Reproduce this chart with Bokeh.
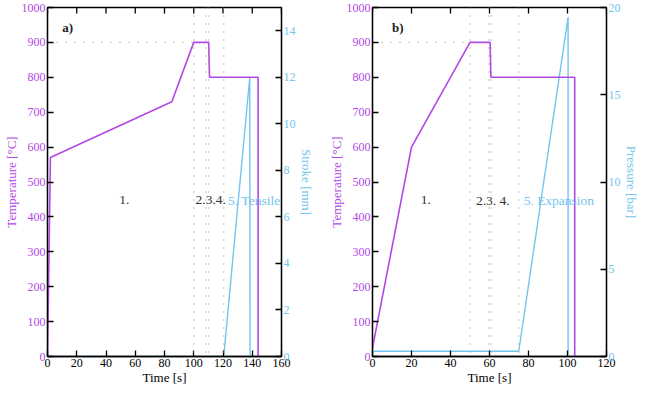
import math
from bokeh.plotting import figure
from bokeh.models import Range1d, LinearAxis, Span, FixedTicker
from bokeh.layouts import row
from bokeh.embed import file_html
from bokeh.resources import INLINE
from bokeh.core.properties import value

PURPLE = "#B347E6"
BLUE = "#74C4EE"
FONT = "Liberation Serif"
TICK_FS = "12px"
FS = "13px"
NOTE_FS = "13.5px"

# ---- Panel a data ----
a_time_temp = [0, 2, 85, 100, 110.2, 110.8, 144, 144]
a_temp = [0, 570, 730, 900, 900, 800, 800, 0]
a_time_stroke = [0, 120.5, 138.3, 138.5]
a_stroke = [0, 0, 12, 0]
a_stage_lines = [100, 108.3, 110.3, 120.5]
a_hline_x = [0, 100]
a_hline_y = [900, 900]
a_xticks = [0, 20, 40, 60, 80, 100, 120, 140, 160]
a_rticks = [0, 2, 4, 6, 8, 10, 12, 14]
a_labels = ["1.", "2.3.4."]
a_label_x = [52.6, 111.6]
a_label_y = [447, 447]
a_blue_label = "5. Tensile"
a_blue_label_x = 123.5

# ---- Panel b data ----
b_time_temp = [0, 20, 50, 60.3, 60.7, 103.7, 103.7]
b_temp = [25, 600, 900, 900, 800, 800, 0]
b_time_press = [0, 75, 100.3, 100.3]
b_press = [0.3, 0.3, 19.45, 0]
b_stage_lines = [50, 59.7, 60.9, 75]
b_hline_x = [0, 50]
b_hline_y = [900, 900]
b_xticks = [0, 20, 40, 60, 80, 100, 120]
b_rticks = [0, 5, 10, 15, 20]
b_labels = ["1.", "2.3. 4."]
b_label_x = [27.4, 61.7]
b_label_y = [447, 447]
b_blue_label = "5. Expansion"
b_blue_label_x = 77.5

yticks = [0, 100, 200, 300, 400, 500, 600, 700, 800, 900, 1000]
YMAX = 1000


def style_axis(ax, color, label_color):
    ax.axis_line_color = "black"
    ax.axis_line_width = 1.3
    ax.major_tick_line_color = "black"
    ax.major_tick_line_width = 1.3
    ax.major_tick_in = 6
    ax.major_tick_out = 0
    ax.minor_tick_line_color = None
    ax.major_label_text_font = FONT
    ax.major_label_text_font_size = TICK_FS
    ax.major_label_text_color = color
    ax.axis_label_text_font = FONT
    ax.axis_label_text_font_size = FS
    ax.axis_label_text_font_style = "normal"
    ax.axis_label_text_color = label_color
    ax.major_label_standoff = 2
    ax.axis_label_standoff = 0


def make_panel(bl, br, xmax, xticks, rmax, rticks, rlabel,
               tx, ty, px, py, stages, hx, hy, labels, lx, ly,
               blabel, blx, tag, tag_x):
    p = figure(frame_width=234, frame_height=349, output_backend="svg", toolbar_location=None,
               x_range=Range1d(0, xmax), y_range=Range1d(0, YMAX),
               min_border_left=bl, min_border_right=br, min_border_top=7,
               min_border_bottom=0)
    p.background_fill_color = "white"
    p.border_fill_color = "white"
    p.outline_line_color = "black"
    p.outline_line_width = 1.3
    p.xgrid.visible = False
    p.ygrid.visible = False
    p.extra_y_ranges = {"r": Range1d(0, rmax)}

    p.xaxis.ticker = FixedTicker(ticks=xticks)
    p.xaxis.axis_label = "Time [s]"
    style_axis(p.xaxis[0], "black", "black")
    p.yaxis.ticker = FixedTicker(ticks=yticks)
    p.yaxis.axis_label = "Temperature [°C]"
    style_axis(p.yaxis[0], PURPLE, PURPLE)

    ra = LinearAxis(y_range_name="r", ticker=FixedTicker(ticks=rticks), axis_label=rlabel)
    style_axis(ra, BLUE, BLUE)
    p.add_layout(ra, "right")

    # mirrored inward ticks along the top edge
    p.ray(x=xticks, y=[YMAX] * len(xticks), length=6, length_units="screen",
          angle=-math.pi / 2, line_color="black", line_width=1.3)

    for s in stages:
        p.add_layout(Span(location=s, dimension="height", line_color="#999999",
                          line_width=1.2, line_dash="1 7"))
    p.line(hx, hy, line_color="#999999", line_width=1.2, line_dash="1 8")

    p.line(px, py, y_range_name="r", line_color=BLUE, line_width=1.4)
    p.line(tx, ty, line_color=PURPLE, line_width=1.6)

    p.text(x=lx, y=ly, text=labels, text_font=value(FONT), text_font_size=NOTE_FS,
           text_align="center", text_baseline="middle", text_color="#333333")
    p.text(x=[blx], y=[ly[0]], text=[blabel], text_font=value(FONT), text_font_size=NOTE_FS,
           text_align="left", text_baseline="middle", text_color=BLUE)
    p.text(x=[tag_x], y=[944], text=[tag], text_font=value(FONT), text_font_size=FS,
           text_font_style="bold", text_align="left", text_baseline="middle",
           text_color="#222222")
    return p


pa = make_panel(40, 36, 160, a_xticks, 15, a_rticks, "Stroke [mm]",
                a_time_temp, a_temp, a_time_stroke, a_stroke, a_stage_lines,
                a_hline_x, a_hline_y, a_labels, a_label_x, a_label_y,
                a_blue_label, a_blue_label_x, "a)", 10)
pb = make_panel(55, 36, 120, b_xticks, 20, b_rticks, "Pressure [bar]",
                b_time_temp, b_temp, b_time_press, b_press, b_stage_lines,
                b_hline_x, b_hline_y, b_labels, b_label_x, b_label_y,
                b_blue_label, b_blue_label_x, "b)", 10)

layout = row(pa, pb, spacing=0)
open("out.html", "w").write(file_html(layout, INLINE))
